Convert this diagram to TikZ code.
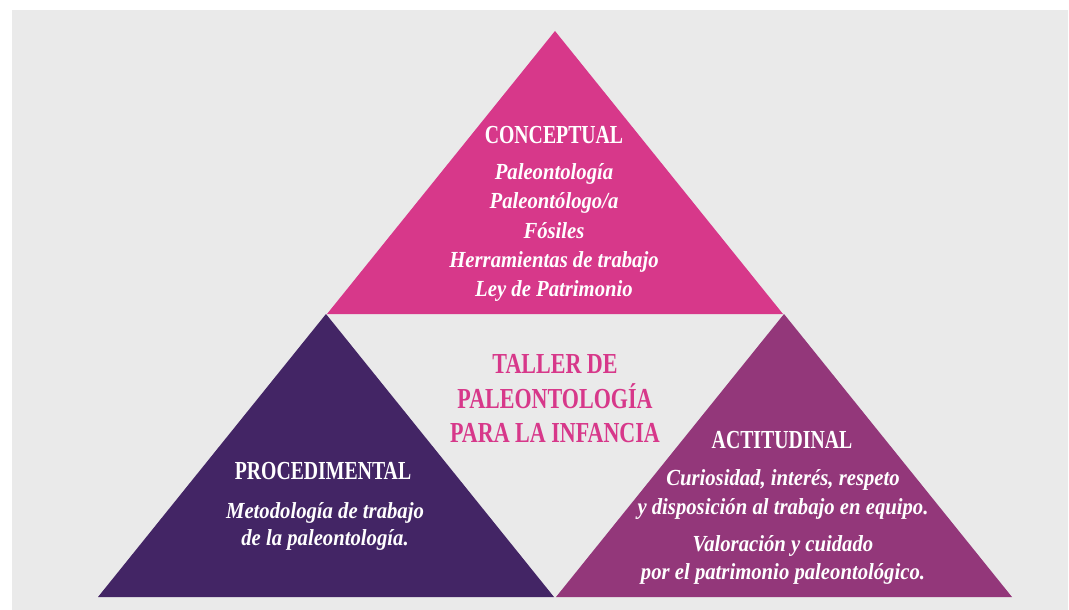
\documentclass[tikz,border=0pt]{standalone}
\usepackage{fontspec}
\setmainfont{Liberation Serif}
\newfontfamily\condfont[FakeStretch=0.76]{Liberation Serif}
\newfontfamily\bodyfont[FakeStretch=0.9]{Liberation Serif}
\definecolor{bggray}{HTML}{EAEAEA}
\definecolor{pinkc}{HTML}{D7388A}
\definecolor{darkp}{HTML}{432565}
\definecolor{plum}{HTML}{93377A}
\tikzset{
  head/.style={anchor=base, text=white, inner sep=0pt, font=\condfont\bfseries\fontsize{26}{26}\selectfont},
  body/.style={anchor=base, text=white, inner sep=0pt, font=\bodyfont\bfseries\itshape\fontsize{23}{23}\selectfont},
  title/.style={anchor=base, text=pinkc, inner sep=0pt, font=\condfont\bfseries\fontsize{29}{29}\selectfont},
}
\begin{document}
\begin{tikzpicture}[x=1pt,y=-1pt]
\useasboundingbox (0,0) rectangle (1069,610);
\fill[bggray] (12,10) rectangle (1068,610);
% triangles
\fill[pinkc] (555,31) -- (783,314) -- (327,314) -- cycle;
\fill[darkp] (326,314) -- (554,597) -- (98,597) -- cycle;
\fill[plum] (784,314) -- (1012,597) -- (556,597) -- cycle;
% top
\node[head] (c0) at (554,143) {CONCEPTUAL};
\node[body] (c1) at (554,179) {Paleontología};
\node[body] (c2) at (554,208) {Paleontólogo/a};
\node[body] (c3) at (554,238) {Fósiles};
\node[body] (c4) at (554,267) {Herramientas de trabajo};
\node[body] (c5) at (554,296) {Ley de Patrimonio};
% center
\node[title] (t1) at (555,373) {TALLER DE};
\node[title] (t2) at (555,408) {PALEONTOLOGÍA};
\node[title] (t3) at (555,442) {PARA LA INFANCIA};
% left
\node[head] (p0) at (323,479) {PROCEDIMENTAL};
\node[body] (p1) at (325,518) {Metodología de trabajo};
\node[body] (p2) at (325,545) {de la paleontología.};
% right
\node[head] (a0) at (782,448) {ACTITUDINAL};
\node[body] (a1) at (783,485) {Curiosidad, interés, respeto};
\node[body] (a2) at (783,514) {y disposición al trabajo en equipo.};
\node[body] (a3) at (783,551) {Valoración y cuidado};
\node[body] (a4) at (783,579) {por el patrimonio paleontológico.};
\end{tikzpicture}
\end{document}
